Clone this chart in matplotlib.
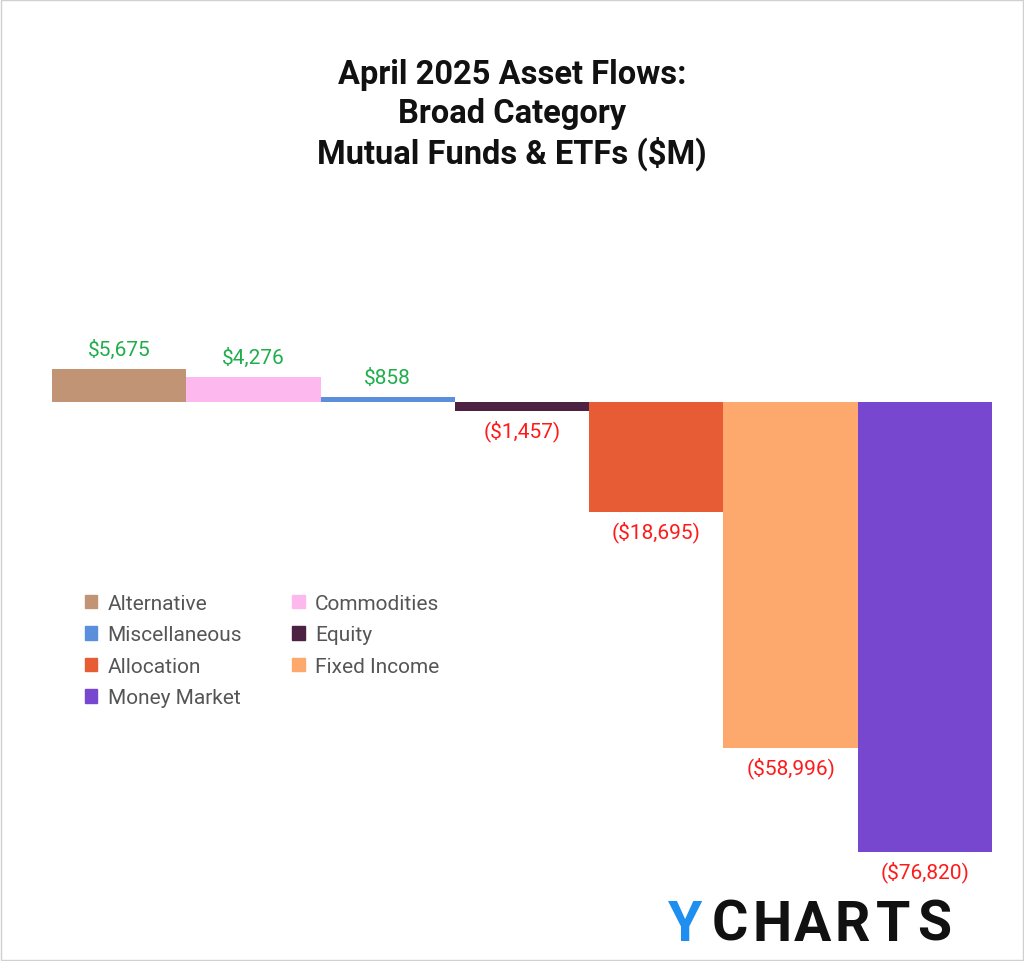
import matplotlib
matplotlib.use("Agg")
import matplotlib.pyplot as plt
from matplotlib.patches import Patch

categories = ["Alternative", "Commodities", "Miscellaneous", "Equity", "Allocation", "Fixed Income", "Money Market"]
values = [5675, 4276, 858, -1457, -18695, -58996, -76820]
colors = ["#c09474", "#fdb9ee", "#5b8fdc", "#4d2142", "#e85c35", "#fda96e", "#7847d0"]

W, H = 1024, 962
fig = plt.figure(figsize=(W/100, H/100), dpi=100)
fig.patch.set_facecolor("white")
fig.add_artist(plt.Rectangle((0.001, 0.001), 0.998, 0.998, transform=fig.transFigure,
                             fill=False, edgecolor="#d0d0d0", lw=1))

ax = fig.add_axes([52/W, 62/H, 940/W, 700/H])
ax.set_xlim(-0.5, len(values) - 0.5)
ax.set_ylim(-84844, 34654)
ax.axis("off")
ax.bar(range(len(values)), values, width=1.0, color=colors)

for i, v in enumerate(values):
    if v >= 0:
        ax.annotate(f"${v:,}", (i, v), xytext=(0, 7), textcoords="offset points",
                    ha="center", va="bottom", color="#1fae4b", fontsize=15, family="Roboto")
    else:
        ax.annotate(f"(${-v:,})", (i, v), xytext=(0, -6), textcoords="offset points",
                    ha="center", va="top", color="#ff1a1a", fontsize=15, family="Roboto")

handles = [Patch(color=c, label=l) for c, l in zip(colors, categories)]
order = [0, 2, 4, 6, 1, 3, 5]
fig.legend(handles=[handles[k] for k in order], ncol=2, loc="upper left",
           bbox_to_anchor=(66/W, 1 - 576/H),
           frameon=False, prop={"family": "Roboto", "size": 15}, labelcolor="#555555",
           handlelength=0.6, handleheight=0.6, handletextpad=0.5, columnspacing=2.4,
           labelspacing=0.6)

fig.text(0.5, 1 - 115/H, "April 2025 Asset Flows:\nBroad Category\nMutual Funds & ETFs ($M)",
         ha="center", va="center", fontsize=23.5, fontweight="bold", family="Roboto",
         linespacing=1.25, color="#111111")

fig.text(668/W, 1 - 926/H, "Y", color="#1f8ef1", fontsize=40, fontweight="bold",
         family="Roboto", va="center", ha="left")
for k, ch in enumerate("CHARTS"):
    fig.text((712 + 41*k)/W, 1 - 926/H, ch, color="#111111", fontsize=40, fontweight="bold",
             family="Roboto", va="center", ha="left")

fig.savefig("out.png", dpi=100)
